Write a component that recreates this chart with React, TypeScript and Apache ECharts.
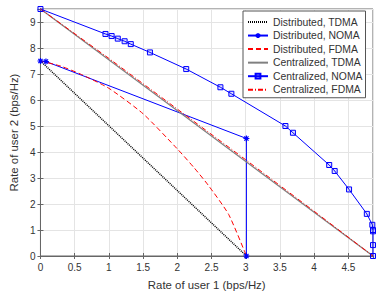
import React, { useEffect, useRef } from "react";
import * as echarts from "echarts";

const xTickMax = 4.86;
const yTickMax = 9.5;

const distTdmaX = [0, 3.01];
const distTdmaY = [7.5, 0];

const distNomaX = [0, 0.08, 3.01, 3.01];
const distNomaY = [7.5, 7.48, 4.52, 0];

const distFdmaX = [0, 0.3, 0.6, 1.0, 1.5, 2.0, 2.25, 2.45, 2.75, 3.01];
const distFdmaY = [7.5, 7.3, 6.98, 6.45, 5.47, 4.12, 3.38, 2.73, 1.6, 0];

const cenTdmaX = [0, 4.86];
const cenTdmaY = [9.5, 0];

const cenNomaX = [0, 0.95, 1.04, 1.13, 1.23, 1.32, 1.6, 2.13, 2.63, 2.79, 3.58, 3.69, 4.22, 4.3, 4.51, 4.77, 4.85, 4.86, 4.86, 4.86, 4.86];
const cenNomaY = [9.5, 8.54, 8.46, 8.36, 8.26, 8.15, 7.83, 7.19, 6.49, 6.24, 5.0, 4.74, 3.5, 3.27, 2.56, 1.62, 1.2, 1.0, 0.95, 0.42, 0];

const cenFdmaX = [0, 1, 2, 3, 4, 4.86];
const cenFdmaY = [9.5, 7.6, 5.65, 3.7, 1.72, 0];

const seriesNames = [
  "Distributed, TDMA",
  "Distributed, NOMA",
  "Distributed, FDMA",
  "Centralized, TDMA",
  "Centralized, NOMA",
  "Centralized, FDMA",
];

const pairs = (xs: number[], ys: number[]) => xs.map((x, i) => [x, ys[i]]);

const asterisk = "path://M0,-5L0,5M-5,0L5,0M-3.5,-3.5L3.5,3.5M-3.5,3.5L3.5,-3.5";

export default function App() {
  const ref = useRef<HTMLDivElement>(null);
  useEffect(() => {
    if (!ref.current) return;
    const chart = echarts.init(ref.current, null, { renderer: "svg" });
    const font = "Liberation Sans, Arial, Helvetica, sans-serif";
    const axisColor = "#666666";
    const textColor = "#333333";
    const baseAxis = {
      type: "value" as const,
      axisLine: { show: true, lineStyle: { color: axisColor, width: 1 } },
      axisTick: { show: true, inside: true, length: 3, lineStyle: { color: axisColor } },
    };
    const hiddenSymbol = { color: "transparent", borderColor: "transparent", borderWidth: 0 };
    chart.setOption({
      animation: false,
      backgroundColor: "#ffffff",
      textStyle: { fontFamily: font },
      grid: {
        left: 25,
        right: 9,
        top: 9,
        bottom: 40,
        show: true,
        borderColor: axisColor,
        borderWidth: 1,
        backgroundColor: "transparent",
      },
      xAxis: [
        {
          ...baseAxis,
          min: 0,
          max: xTickMax,
          interval: 0.5,
          name: "Rate of user 1 (bps/Hz)",
          nameLocation: "middle",
          nameGap: 23,
          nameTextStyle: { fontSize: 11.4, color: textColor, fontFamily: font },
          axisLabel: { fontSize: 10, color: textColor, margin: 6, showMaxLabel: false, fontFamily: font },
          splitLine: { show: true, lineStyle: { color: "#e4e4e4", width: 1 } },
        },
        {
          ...baseAxis,
          position: "top",
          min: 0,
          max: xTickMax,
          interval: 0.5,
          axisLabel: { show: false },
          splitLine: { show: false },
        },
      ],
      yAxis: [
        {
          ...baseAxis,
          min: 0,
          max: yTickMax,
          interval: 1,
          name: "Rate of user 2 (bps/Hz)",
          nameLocation: "middle",
          nameGap: 13,
          nameTextStyle: { fontSize: 11.4, color: textColor, fontFamily: font },
          axisLabel: { fontSize: 10, color: textColor, margin: 5, showMaxLabel: false, fontFamily: font },
          splitLine: { show: true, lineStyle: { color: "#e4e4e4", width: 1 } },
        },
        {
          ...baseAxis,
          position: "right",
          min: 0,
          max: yTickMax,
          interval: 1,
          axisLabel: { show: false },
          splitLine: { show: false },
        },
      ],
      legend: {
        orient: "vertical",
        left: 243,
        top: 11,
        padding: [6, 3, 3, 4],
        itemWidth: 20,
        itemHeight: 6,
        itemGap: 3.55,
        backgroundColor: "#ffffff",
        borderColor: "#555555",
        borderWidth: 1,
        borderRadius: 0,
        data: [
          { name: seriesNames[0], itemStyle: hiddenSymbol },
          { name: seriesNames[1] },
          { name: seriesNames[2], itemStyle: hiddenSymbol },
          { name: seriesNames[3], itemStyle: hiddenSymbol },
          { name: seriesNames[4] },
          { name: seriesNames[5], itemStyle: hiddenSymbol },
        ],
        textStyle: { fontSize: 10.4, lineHeight: 10, color: textColor, fontFamily: font },
      },
      series: [
        {
          name: seriesNames[0],
          type: "line",
          data: pairs(distTdmaX, distTdmaY),
          symbol: "none",
          clip: false,
          lineStyle: { color: "#000000", width: 1.5, type: [1, 1] },
          itemStyle: { color: "#000000" },
        },
        {
          name: seriesNames[1],
          type: "line",
          data: pairs(distNomaX, distNomaY),
          symbol: asterisk,
          symbolSize: 6,
          showAllSymbol: true,
          clip: false,
          lineStyle: { color: "#0000ff", width: 1 },
          itemStyle: { color: "#0000ff", borderColor: "#0000ff", borderWidth: 1.2 },
        },
        {
          name: seriesNames[2],
          type: "line",
          data: pairs(distFdmaX, distFdmaY),
          symbol: "none",
          smooth: 0.2,
          clip: false,
          lineStyle: { color: "#ff0000", width: 1, type: [5, 3] },
          itemStyle: { color: "#ff0000" },
        },
        {
          name: seriesNames[3],
          type: "line",
          data: pairs(cenTdmaX, cenTdmaY),
          symbol: "none",
          clip: false,
          lineStyle: { color: "#808080", width: 1.2 },
          itemStyle: { color: "#808080" },
        },
        {
          name: seriesNames[4],
          type: "line",
          data: pairs(cenNomaX, cenNomaY),
          symbol: "rect",
          symbolSize: 5,
          showAllSymbol: true,
          clip: false,
          lineStyle: { color: "#0000ff", width: 1 },
          itemStyle: { color: "rgba(0,0,255,0.12)", borderColor: "#0000ff", borderWidth: 1 },
        },
        {
          name: seriesNames[5],
          type: "line",
          data: pairs(cenFdmaX, cenFdmaY),
          symbol: "none",
          clip: false,
          lineStyle: { color: "#ff0000", width: 1, type: [5, 2, 1, 2] },
          itemStyle: { color: "#ff0000" },
        },
      ],
    });
    return () => chart.dispose();
  }, []);
  return (
    <div
      ref={ref}
      style={{ position: "absolute", left: 0, top: 0, width: 382, height: 296 }}
    />
  );
}
